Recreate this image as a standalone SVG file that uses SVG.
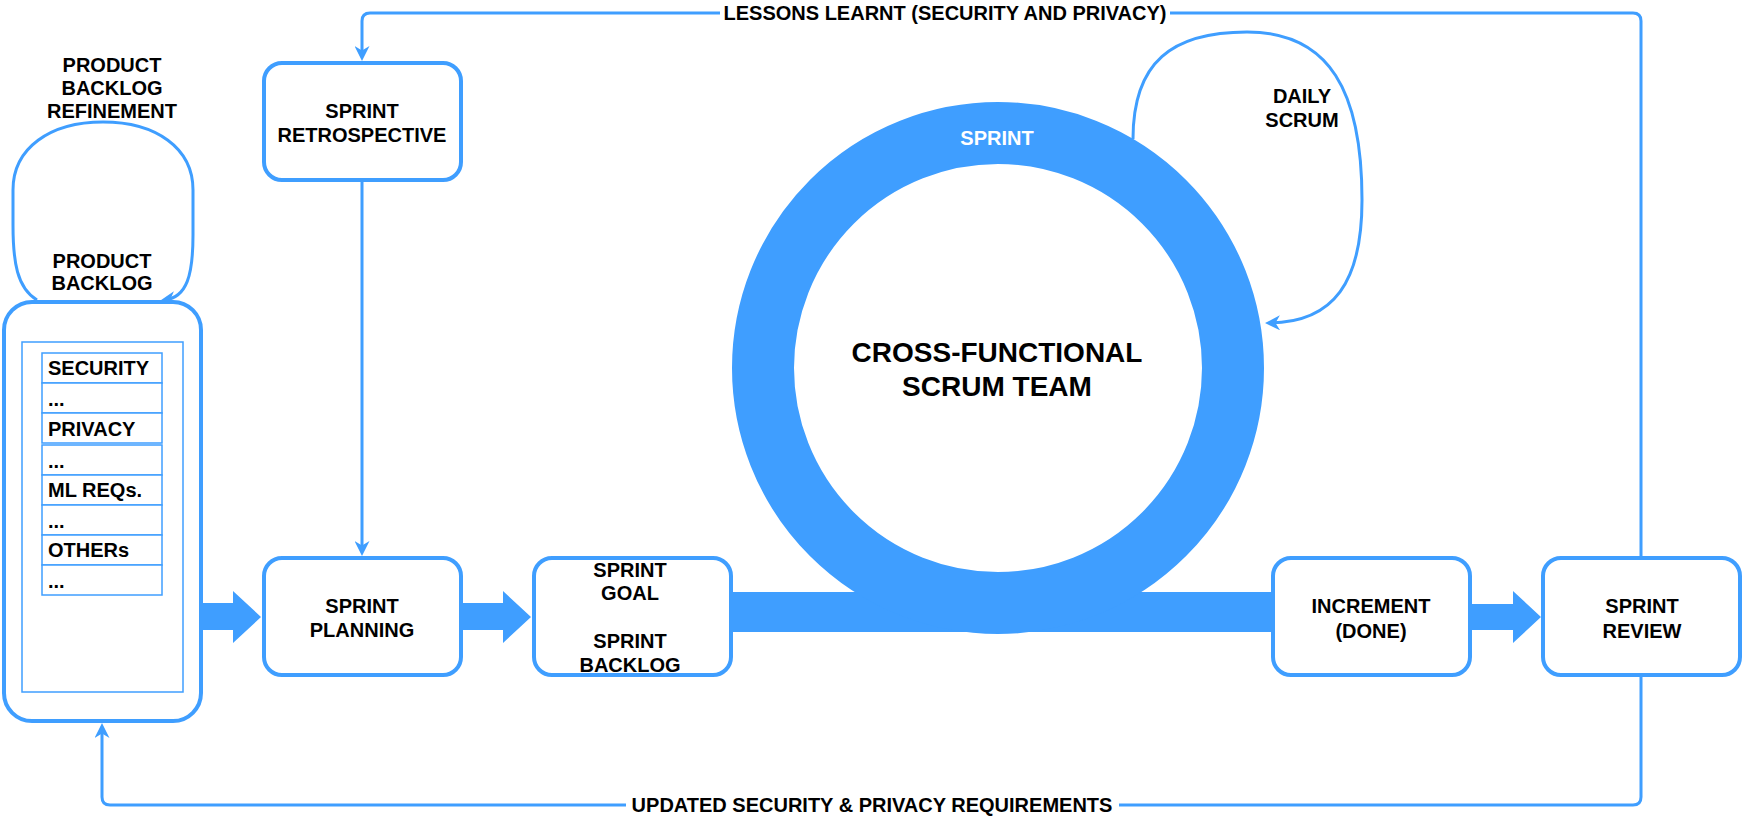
<svg xmlns="http://www.w3.org/2000/svg" width="1745" height="818" viewBox="0 0 1745 818">
<defs>
<style>
.t{font-family:"Liberation Sans",Arial,sans-serif;font-weight:bold;font-size:20px;fill:#000;text-anchor:middle}
.tl{font-family:"Liberation Sans",Arial,sans-serif;font-weight:bold;font-size:20px;fill:#000;text-anchor:start}
.big{font-size:28px}
.box{fill:#fff;stroke:#3F9EFF;stroke-width:4}
.conn{fill:none;stroke:#3F9EFF;stroke-width:3}
.cell{fill:#fff;stroke:#3F9EFF;stroke-width:1.5}
.blk{fill:#3F9EFF;stroke:none}
</style>
<marker id="arr" viewBox="0 0 15 15" refX="10" refY="7.5" markerWidth="15" markerHeight="15" markerUnits="userSpaceOnUse" orient="auto">
<path d="M0,0 L15,7.5 L0,15 L4.5,7.5 z" fill="#3F9EFF"/>
</marker>
</defs>
<rect width="1745" height="818" fill="#fff"/>

<g id="connectors">
<path class="conn" d="M1641,556 L1641,21 Q1641,13 1633,13 L370,13 Q362,13 362,21 L362,56" marker-end="url(#arr)"/>
<rect x="720" y="2" width="450" height="24" fill="#fff"/>
<text class="t" x="945" y="20">LESSONS LEARNT (SECURITY AND PRIVACY)</text>
<path class="conn" d="M362,181 L362,551" marker-end="url(#arr)"/>
<path class="conn" d="M1641,677 L1641,797 Q1641,805 1633,805 L110,805 Q102,805 102,797 L102,728" marker-end="url(#arr)"/>
<rect x="626" y="794" width="493" height="24" fill="#fff"/>
<text class="t" x="872" y="812">UPDATED SECURITY &amp; PRIVACY REQUIREMENTS</text>
<path class="conn" d="M37,300 C17,288 13,262 13,225 L13,190 C13,148 50,122 103,122 C156,122 193,148 193,190 L193,235 C193,275 187,297 165,300" marker-end="url(#arr)"/>
<path class="conn" d="M1133,139 C1133,62 1172,32 1247,32 C1330,32 1362,92 1362,200 C1362,282 1334,322 1270,323" marker-end="url(#arr)"/>
<polygon class="blk" points="203,603 233,603 233,591 261,617 233,643 233,630 203,630"/>
<polygon class="blk" points="462,603 503,603 503,591 531,617 503,643 503,630 462,630"/>
<polygon class="blk" points="1472,604 1513,604 1513,591 1541,617 1513,643 1513,630 1472,630"/>
<rect class="blk" x="730" y="592" width="544" height="40"/>
</g>

<g id="sprint">
<circle cx="998" cy="368" r="235" fill="none" stroke="#3F9EFF" stroke-width="62"/>
<text class="t" x="997" y="145" style="fill:#fff">SPRINT</text>
<text class="t big" x="997" y="362">CROSS-FUNCTIONAL</text>
<text class="t big" x="997" y="396">SCRUM TEAM</text>
</g>

<g id="daily-scrum-label">
<text class="t" x="1302" y="103">DAILY</text>
<text class="t" x="1302" y="127">SCRUM</text>
</g>

<g id="refinement-label">
<text class="t" x="112" y="72">PRODUCT</text>
<text class="t" x="112" y="95">BACKLOG</text>
<text class="t" x="112" y="118">REFINEMENT</text>
</g>

<g id="product-backlog">
<text class="t" x="102" y="268">PRODUCT</text>
<text class="t" x="102" y="290">BACKLOG</text>
<rect class="box" x="4" y="302" width="197" height="419" rx="28"/>
<rect class="cell" x="22" y="342" width="161" height="350"/>
<rect class="cell" x="42" y="353" width="120" height="30"/>
<rect class="cell" x="42" y="383" width="120" height="30"/>
<rect class="cell" x="42" y="413" width="120" height="30"/>
<rect class="cell" x="42" y="445" width="120" height="30"/>
<rect class="cell" x="42" y="475" width="120" height="30"/>
<rect class="cell" x="42" y="505" width="120" height="30"/>
<rect class="cell" x="42" y="535" width="120" height="30"/>
<rect class="cell" x="42" y="565" width="120" height="30"/>
<text class="tl" x="48" y="375">SECURITY</text>
<text class="tl" x="48" y="406">...</text>
<text class="tl" x="48" y="436">PRIVACY</text>
<text class="tl" x="48" y="468">...</text>
<text class="tl" x="48" y="497">ML REQs.</text>
<text class="tl" x="48" y="528">...</text>
<text class="tl" x="48" y="557">OTHERs</text>
<text class="tl" x="48" y="588">...</text>
</g>

<g id="sprint-retrospective">
<rect class="box" x="264" y="63" width="197" height="117" rx="18"/>
<text class="t" x="362" y="118">SPRINT</text>
<text class="t" x="362" y="142">RETROSPECTIVE</text>
</g>

<g id="sprint-planning">
<rect class="box" x="264" y="558" width="197" height="117" rx="18"/>
<text class="t" x="362" y="613">SPRINT</text>
<text class="t" x="362" y="637">PLANNING</text>
</g>

<g id="sprint-goal">
<rect class="box" x="534" y="558" width="197" height="117" rx="18"/>
<text class="t" x="630" y="577">SPRINT</text>
<text class="t" x="630" y="600">GOAL</text>
<text class="t" x="630" y="648">SPRINT</text>
<text class="t" x="630" y="672">BACKLOG</text>
</g>

<g id="increment">
<rect class="box" x="1273" y="558" width="197" height="117" rx="18"/>
<text class="t" x="1371" y="613">INCREMENT</text>
<text class="t" x="1371" y="638">(DONE)</text>
</g>

<g id="sprint-review">
<rect class="box" x="1543" y="558" width="197" height="117" rx="18"/>
<text class="t" x="1642" y="613">SPRINT</text>
<text class="t" x="1642" y="638">REVIEW</text>
</g>
</svg>
